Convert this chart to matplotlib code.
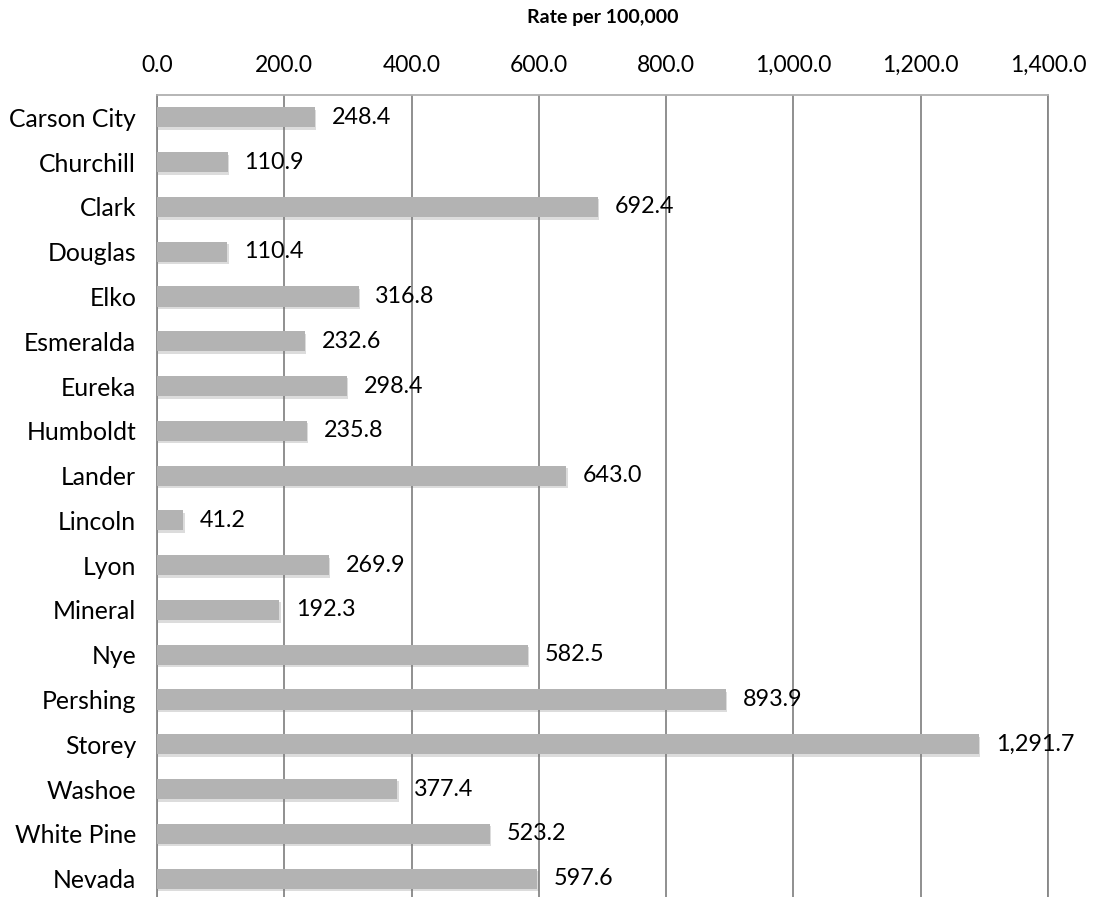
import matplotlib
matplotlib.use("Agg")
import matplotlib.pyplot as plt
import matplotlib.patheffects as pe
from matplotlib.ticker import FuncFormatter, MultipleLocator

counties = ["Carson City", "Churchill", "Clark", "Douglas", "Elko", "Esmeralda",
            "Eureka", "Humboldt", "Lander", "Lincoln", "Lyon", "Mineral", "Nye",
            "Pershing", "Storey", "Washoe", "White Pine", "Nevada"]
rates = [248.4, 110.9, 692.4, 110.4, 316.8, 232.6, 298.4, 235.8, 643.0, 41.2,
         269.9, 192.3, 582.5, 893.9, 1291.7, 377.4, 523.2, 597.6]
title = "Rate per 100,000"

plt.rcParams['font.family'] = ['Lato', 'DejaVu Sans']

W, H = 1094, 897
fig = plt.figure(figsize=(W/100, H/100), dpi=100)
left, right, top, bottom = 157, 1048, 95, 901
ax = fig.add_axes([left/W, (H-bottom)/H, (right-left)/W, (bottom-top)/H])

y = list(range(len(counties)))
bars = ax.barh(y, rates, height=0.45, color="#b3b3b3", zorder=3)
for b in bars:
    b.set_path_effects([pe.SimplePatchShadow(offset=(1, -1.8), shadow_rgbFace="#777777", alpha=0.25),
                        pe.Normal()])

ax.set_xlim(0, 1400)
ax.set_ylim(17.5, -0.5)
ax.xaxis.set_major_locator(MultipleLocator(200))
ax.xaxis.set_major_formatter(FuncFormatter(lambda v, p: f"{v:,.1f}"))
ax.xaxis.tick_top()
ax.tick_params(axis="x", length=0, labelsize=16.5, pad=14)
ax.set_yticks(y)
ax.set_yticklabels(counties)
ax.tick_params(axis="y", length=0, labelsize=17.8, pad=15)

fig.text((left + right) / 2 / W, 1 - 18 / H, title, ha="center", va="center",
         fontsize=14, fontweight="bold")

ax.grid(axis="x", color="#878787", linewidth=1.3, zorder=1)
ax.set_axisbelow(True)
ax.spines["bottom"].set_visible(False)
ax.spines["left"].set_color("#878787")
ax.spines["left"].set_linewidth(1.3)
ax.spines["top"].set_color("#b0b0b0")
ax.spines["top"].set_linewidth(1.3)
ax.spines["right"].set_color("#878787")
ax.spines["right"].set_linewidth(1.3)

for yi, v in zip(y, rates):
    ax.annotate(f"{v:,.1f}", (v, yi), xytext=(12, 0), textcoords="offset points",
                ha="left", va="center", fontsize=16.8, zorder=5)

fig.savefig("out.png", dpi=100)
